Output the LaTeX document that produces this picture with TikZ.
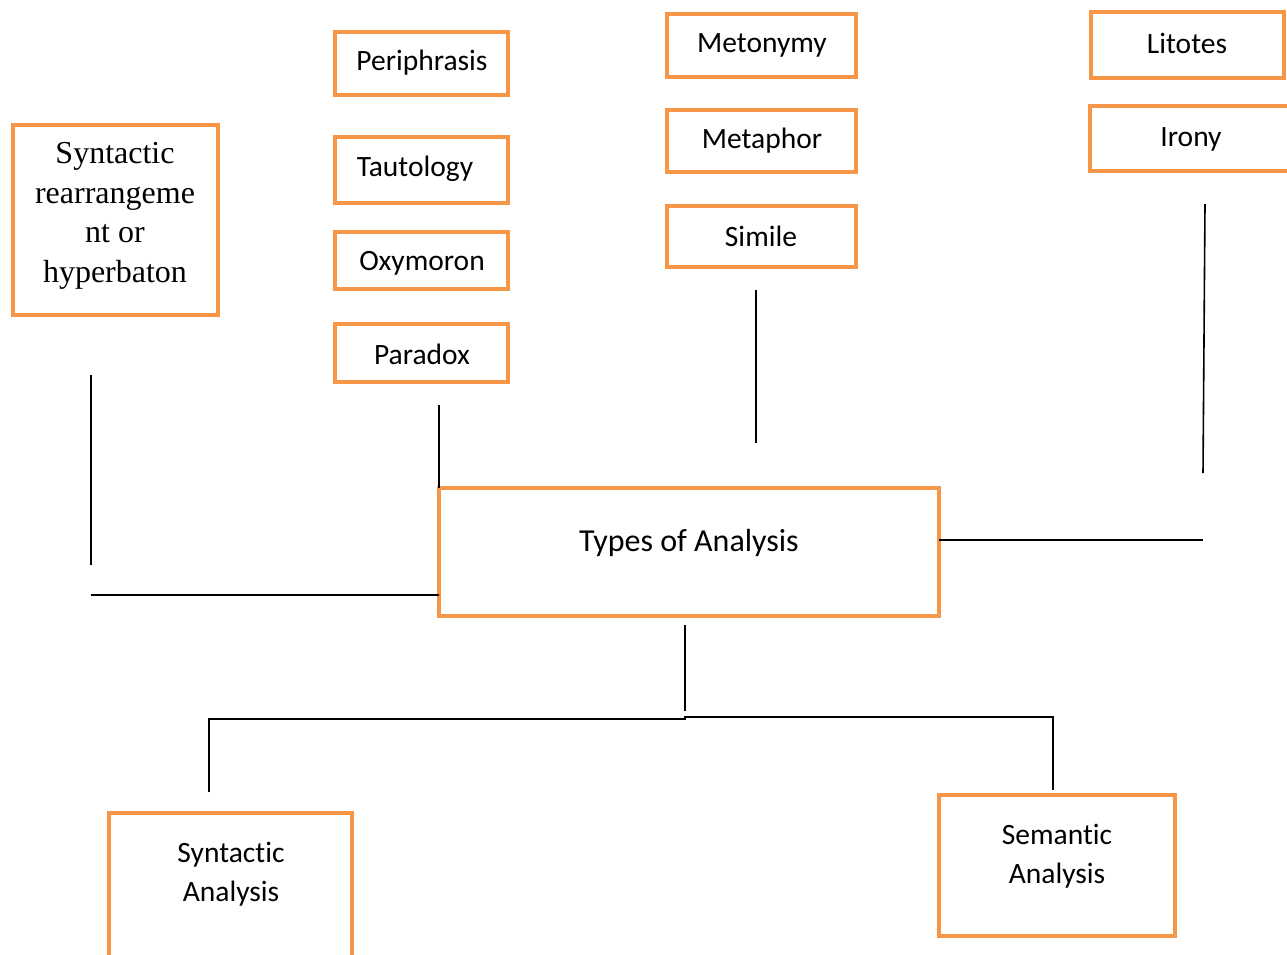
\documentclass[tikz,border=0pt]{standalone}
\usepackage{fontspec}
\setmainfont{Carlito}[Ligatures=NoCommon]
\newfontfamily\tnr{Liberation Serif}
\definecolor{boxorange}{HTML}{F79646}
\begin{document}
\begin{tikzpicture}[x=1pt,y=-1pt,
  obox/.style={draw=boxorange,line width=4.5pt,rectangle,inner sep=0pt,outer sep=0pt,fill=white},
  txt/.style={inner sep=0pt,align=center,font=\fontsize{29.5}{39}\selectfont},
  bigtxt/.style={inner sep=0pt,align=center,font=\fontsize{32}{39}\selectfont},
  serif/.style={inner sep=0pt,align=center,font=\tnr\fontsize{32}{39.5}\selectfont},
  conn/.style={draw=black,line width=1.6pt}]
\useasboundingbox (0,0) rectangle (1287,954);
% boxes
\node[obox,minimum width=205,minimum height=190] (synr) at (115.5,220) {};
\node[obox,minimum width=173,minimum height=63] (peri) at (421.5,63.5) {};
\node[obox,minimum width=173,minimum height=66] (taut) at (421.5,170) {};
\node[obox,minimum width=173,minimum height=57] (oxy) at (421.5,260.5) {};
\node[obox,minimum width=173,minimum height=58] (para) at (421.5,353) {};
\node[obox,minimum width=189,minimum height=63] (meto) at (761.5,45.5) {};
\node[obox,minimum width=189,minimum height=62] (meta) at (761.5,141) {};
\node[obox,minimum width=189,minimum height=61] (simi) at (761.5,236.5) {};
\node[obox,minimum width=193,minimum height=66] (lito) at (1187.5,45) {};
\node[obox,minimum width=220,minimum height=65] (iron) at (1200,138.5) {};
\node[obox,minimum width=500,minimum height=128] (types) at (689,552) {};
\node[obox,minimum width=243,minimum height=162] (syna) at (230.5,894) {};
\node[obox,minimum width=236,minimum height=141] (sema) at (1057,865.5) {};
% texts
\node[serif] (synr-t) at (115,216) {Syntactic\\rearrangeme\\nt or\\hyperbaton};
\node[txt] (peri-t) at (422,63) {Periphrasis};
\node[txt] (taut-t) at (415,169) {Tautology};
\node[txt] (oxy-t) at (422,263) {Oxymoron};
\node[txt] (para-t) at (422,354) {Paradox};
\node[txt] (meto-t) at (762,45) {Metonymy};
\node[txt] (meta-t) at (762,141) {Metaphor};
\node[txt] (simi-t) at (761,236) {Simile};
\node[txt] (lito-t) at (1187,43) {Litotes};
\node[txt] (iron-t) at (1191,139) {Irony};
\node[bigtxt] (types-t) at (689,543) {Types of Analysis};
\node[txt] (syna-t) at (231,874.5) {Syntactic\\Analysis};
\node[txt] (sema-t) at (1057,856.5) {Semantic\\Analysis};
% connector coordinates
\coordinate (l1) at (91,375);
\coordinate (l2) at (91,565);
\coordinate (l3) at (91,595);
\coordinate (p1) at (439,405);
\coordinate (s1) at (756,290);
\coordinate (s2) at (756,443);
\coordinate (i1) at (1205,204);
\coordinate (i2) at (1203,473);
\coordinate (r1) at (1203,540);
\coordinate (b1) at (685,625);
\coordinate (b2) at (685,711);
\coordinate (b3) at (685,719);
\coordinate (b4) at (685,717);
\coordinate (bl) at (209,719);
\coordinate (bl2) at (209,792);
\coordinate (br) at (1053,717);
\coordinate (br2) at (1053,790);
% connectors
\draw[conn] (l1) -- (l2);
\draw[conn] (l3) -- (types.west |- l3);
\draw[conn] (p1) -- (types.north west);
\draw[conn] (s1) -- (s2);
\draw[conn] (i1) -- (i2);
\draw[conn] (types.east |- r1) -- (r1);
\draw[conn] (b1) -- (b2);
\draw[conn] (bl2) -- (bl) -- (b3) -- (b4) -- (br) -- (br2);
\end{tikzpicture}
\end{document}
